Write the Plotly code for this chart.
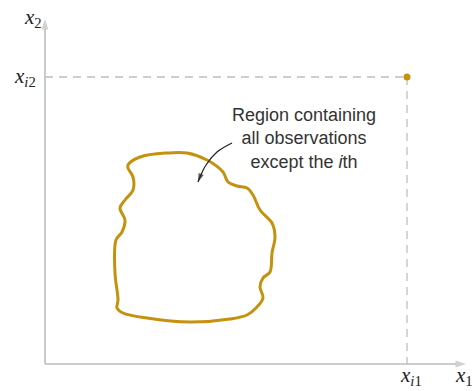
import plotly.graph_objects as go

# Region contour (schematic units, origin at the axes' corner)
region_x = [83, 95, 122, 142, 162, 178, 183, 192, 202, 208, 215, 227, 230, 227, 225, 218, 215, 218, 212, 202,
            185, 145, 102, 78, 72, 73, 70, 71, 77, 80, 75, 80, 88, 88, 83, 83]
region_y = [199, 207, 211, 211, 204, 192, 182, 178, 176, 169, 154, 141, 127, 111, 92, 86, 77, 66, 57, 49,
            45, 42, 46, 51, 56, 64, 91, 124, 132, 144, 156, 164, 174, 187, 196, 199]

# The i-th observation
obs_x = [362]
obs_y = [287]

# Callout arrow path
arrow_x = [187, 172, 161, 155, 153]
arrow_y = [221, 212, 199, 187, 182]

x_max = 425
y_max = 349

GOLD = "#C4920E"
AXIS = "#BDBDBD"
DASH = "#BFBFBF"
SERIF = "Liberation Serif, DejaVu Serif, serif"

fig = go.Figure()

# dashed guides
fig.add_trace(go.Scatter(x=[0, obs_x[0]], y=[obs_y[0], obs_y[0]], mode="lines",
                         line=dict(color=DASH, width=1.3, dash="8px,6px"), hoverinfo="skip"))
fig.add_trace(go.Scatter(x=[obs_x[0], obs_x[0]], y=[obs_y[0], 0], mode="lines",
                         line=dict(color=DASH, width=1.3, dash="8px,6px"), hoverinfo="skip"))

# axes with arrowheads
fig.add_trace(go.Scatter(x=[0, 0], y=[0, y_max - 4], mode="lines+markers",
                         line=dict(color=AXIS, width=1.6),
                         marker=dict(symbol="arrow", angleref="previous", size=[0, 11], color=AXIS,
                                     line=dict(width=0)),
                         hoverinfo="skip"))
fig.add_trace(go.Scatter(x=[0, x_max - 4], y=[0, 0], mode="lines+markers",
                         line=dict(color=AXIS, width=1.6),
                         marker=dict(symbol="arrow", angleref="previous", size=[0, 11], color=AXIS,
                                     line=dict(width=0)),
                         hoverinfo="skip"))

# region
fig.add_trace(go.Scatter(x=region_x, y=region_y, mode="lines",
                         line=dict(color=GOLD, width=3, shape="spline", smoothing=1.0), hoverinfo="skip"))

# observation point
fig.add_trace(go.Scatter(x=obs_x, y=obs_y, mode="markers",
                         marker=dict(color=GOLD, size=7), hoverinfo="skip"))

# callout curve with arrowhead
fig.add_trace(go.Scatter(x=arrow_x, y=arrow_y, mode="lines+markers",
                         line=dict(color="#222222", width=1.3, shape="spline"),
                         marker=dict(symbol="arrow", angleref="previous",
                                     size=[0] * (len(arrow_x) - 1) + [9], color="#222222",
                                     line=dict(width=0)),
                         hoverinfo="skip"))

LABEL_FONT = dict(family=SERIF, size=21, color="#222222")

annotations = [
    # callout text
    dict(x=259, y=226, xref="x", yref="y", showarrow=False,
         text="Region containing<br>all observations<br>except the <i>i</i>th",
         font=dict(family="Liberation Sans, Arial, sans-serif", size=18, color="#333333"), align="center"),
    # axis labels
    dict(x=-12, y=346, xref="x", yref="y", showarrow=False,
         text="<i>x</i><sub>2</sub>", font=LABEL_FONT),
    dict(x=-20, y=287, xref="x", yref="y", showarrow=False,
         text="<i>x</i><sub><i>i</i>2</sub>", font=LABEL_FONT),
    dict(x=366, y=-12, xref="x", yref="y", showarrow=False,
         text="<i>x</i><sub><i>i</i>1</sub>", font=LABEL_FONT),
    dict(x=419, y=-12, xref="x", yref="y", showarrow=False,
         text="<i>x</i><sub>1</sub>", font=LABEL_FONT),
]

fig.update_layout(
    width=475, height=391,
    margin=dict(l=0, r=0, t=0, b=0),
    paper_bgcolor="white", plot_bgcolor="white",
    showlegend=False,
    xaxis=dict(range=[-45, 430], visible=False, fixedrange=True),
    yaxis=dict(range=[-27, 364], visible=False, fixedrange=True),
    annotations=annotations,
)

# Remove the default page margin so the figure fills the window exactly.
fig.write_html("out.html", config={"displayModeBar": False},
               post_script="document.body.style.margin='0';")
